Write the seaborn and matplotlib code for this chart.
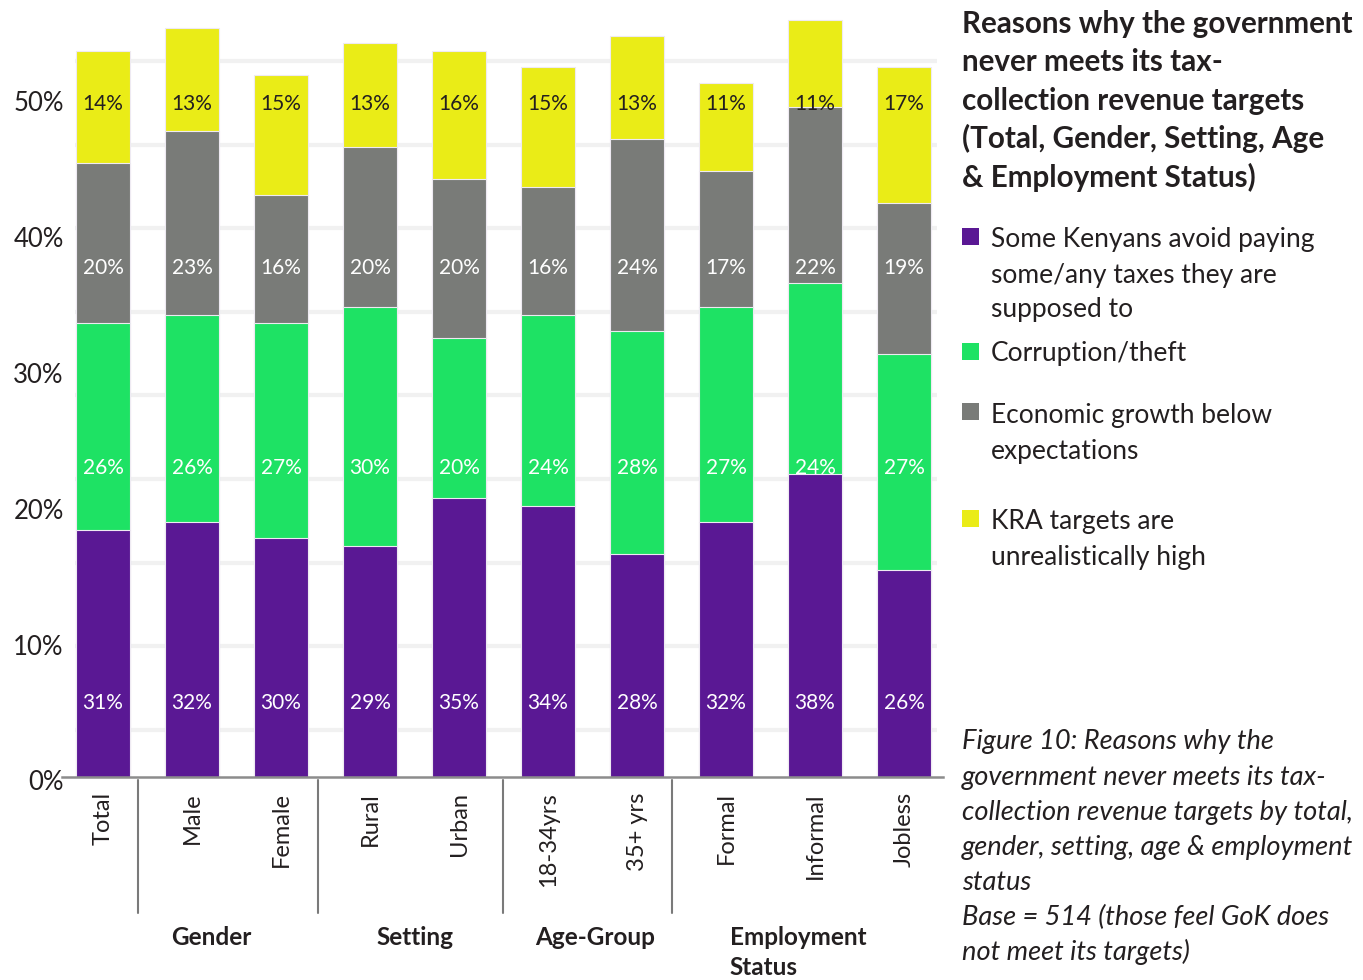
import numpy as np
import pandas as pd
import seaborn as sns
import matplotlib.pyplot as plt
from matplotlib.patches import Rectangle
from matplotlib.transforms import blended_transform_factory

# ---- data -------------------------------------------------------------
categories = ["Total", "Male", "Female", "Rural", "Urban",
              "18-34yrs", "35+ yrs", "Formal", "Informal", "Jobless"]
avoid_taxes = [31, 32, 30, 29, 35, 34, 28, 32, 38, 26]
corruption = [26, 26, 27, 30, 20, 24, 28, 27, 24, 27]
growth_below = [20, 23, 16, 20, 20, 16, 24, 17, 22, 19]
kra_targets = [14, 13, 15, 13, 16, 15, 13, 11, 11, 17]

series_labels = [
    ["Some Kenyans avoid paying", "some/any taxes they are", "supposed to"],
    ["Corruption/theft"],
    ["Economic growth below", "expectations"],
    ["KRA targets are", "unrealistically high"],
]
series_colors = ["#5a1894", "#1ee264", "#797b78", "#eaec17"]
value_text_colors = ["white", "white", "white", "#231f20"]

y_tick_labels = ["0%", "10%", "20%", "30%", "40%", "50%"]
group_names = ["Gender", "Setting", "Age-Group", "Employment\nStatus"]

title_lines = ["Reasons why the government", "never meets its tax-",
               "collection revenue targets", "(Total, Gender, Setting, Age",
               "& Employment Status)"]
caption_lines = ["Figure 10: Reasons why the", "government never meets its tax-",
                 "collection revenue targets by total,",
                 "gender, setting, age & employment", "status",
                 "Base = 514 (those feel GoK does", "not meet its targets)"]

# ---- layout constants ---------------------------------------------------
W, H = 1363, 980
BAR_WIDTH = 0.607
Y_MAX = 96.2
TICK_STEP = 17.04          # axis label spacing in stacked units
TICK_OFFSET = -0.75
GRID_START, GRID_STEP, GRID_COUNT = 5.9, 10.49, 9
LABEL_ROWS = [9.3, 38.8, 63.9, 84.4]   # heights of the value-label rows
GROUP_BOUNDS = [0.39, 2.42, 4.49, 6.39]
GROUP_LABEL_X = [1.22, 3.5, 5.53, 7.04]
TEXT_DARK = "#231f20"


def fx(px):
    return px / W


def fy(py):
    return 1 - py / H


sns.set_style("white")
plt.rcParams["font.family"] = ["Lato", "DejaVu Sans"]

fig = plt.figure(figsize=(W / 100, H / 100), dpi=100)
ax = fig.add_axes([fx(62), fy(777), fx(943) - fx(62), fy(10) - fy(777)])

values = np.array([avoid_taxes, corruption, growth_below, kra_targets])
stacked = np.cumsum(values, axis=0)

# faint horizontal guide lines
grid_levels = GRID_START + GRID_STEP * np.arange(GRID_COUNT)
ax.hlines(grid_levels, -0.315, 9.37, color="#f1f1f1", lw=3, zorder=0)

# stacked bars: draw cumulative totals from the top series down
for level in reversed(range(len(values))):
    df = pd.DataFrame({"category": categories, "value": stacked[level]})
    sns.barplot(data=df, x="category", y="value", order=categories,
                color=series_colors[level], saturation=1, width=BAR_WIDTH,
                errorbar=None, edgecolor="#eeeaf2", linewidth=0.8,
                ax=ax, zorder=2)

# value labels in fixed rows
for level in range(len(values)):
    for i, v in enumerate(values[level]):
        ax.text(i, LABEL_ROWS[level], f"{v}%", ha="center", va="center",
                fontsize=15, color=value_text_colors[level], zorder=5)

ax.set_xlim(-0.461, 9.438)
ax.set_ylim(0, Y_MAX)
ax.set_xlabel("")
ax.set_ylabel("")
for side in ["top", "right", "left"]:
    ax.spines[side].set_visible(False)
ax.spines["bottom"].set_color("#8c8c8c")
ax.spines["bottom"].set_linewidth(1.8)
ax.spines["bottom"].set_zorder(6)
ax.set_yticks([])
ax.set_xticks(range(len(categories)))
ax.set_xticklabels(categories, rotation=90, fontsize=17, color=TEXT_DARK,
                   ha="center", va="top")
ax.tick_params(axis="x", length=0, pad=11)

# y-axis percentage labels
ytrans = blended_transform_factory(ax.transAxes, ax.transData)
for k, lab in enumerate(y_tick_labels):
    ax.text(0.002, TICK_OFFSET + TICK_STEP * k, lab, transform=ytrans,
            ha="right", va="center", fontsize=18.5, color=TEXT_DARK,
            clip_on=False)

# group separators and group names below the axis
gtrans = blended_transform_factory(ax.transData, fig.transFigure)
for xb in GROUP_BOUNDS:
    ax.plot([xb, xb], [fy(780), fy(913)], transform=gtrans, color="#7a7a7a",
            lw=1.5, clip_on=False)
for xg, name in zip(GROUP_LABEL_X, group_names):
    if "\n" in name:
        ax.text(xg, fy(926), name, transform=gtrans, ha="left", va="top",
                fontsize=17.5, fontweight="bold", color=TEXT_DARK,
                linespacing=1.38, clip_on=False)
    else:
        ax.text(xg, fy(937), name, transform=gtrans, ha="center",
                va="center", fontsize=17.5, fontweight="bold",
                color=TEXT_DARK, clip_on=False)

# title
for k, line in enumerate(title_lines):
    fig.text(fx(962), fy(24 + 38.3 * k), line, ha="left", va="center",
             fontsize=21.3, fontweight="bold", color=TEXT_DARK)

# legend
legend_rows = [(228, [239, 275, 310]), (343, [354]), (403, [415, 451]),
               (510, [522, 557])]
for (sq_top, text_ys), color, lines in zip(legend_rows, series_colors,
                                          series_labels):
    fig.patches.append(Rectangle((fx(962), fy(sq_top + 17)), fx(17),
                                 17 / H, transform=fig.transFigure,
                                 facecolor=color, edgecolor="none"))
    for ty, line in zip(text_ys, lines):
        fig.text(fx(991), fy(ty), line, ha="left", va="center",
                 fontsize=19, color=TEXT_DARK)

# caption
for k, line in enumerate(caption_lines):
    fig.text(fx(962), fy(742 + 35 * k), line, ha="left", va="center",
             fontsize=19.6, fontstyle="italic", color=TEXT_DARK)

fig.savefig("out.png", dpi=100)
